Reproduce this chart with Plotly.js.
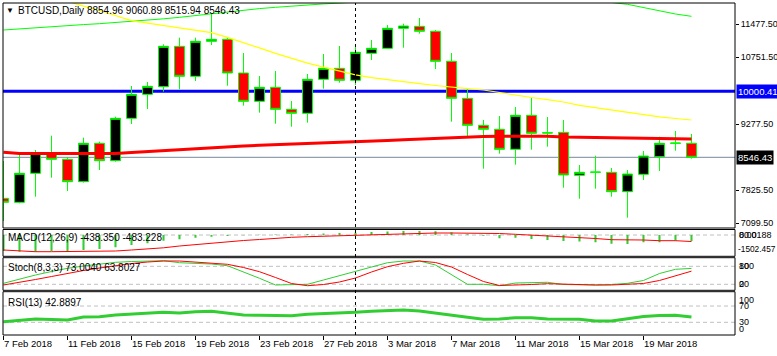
<!DOCTYPE html>
<html><head><meta charset="utf-8">
<script src="https://cdn.plot.ly/plotly-3.0.1.min.js"></script>
<style>html,body{margin:0;padding:0;background:#fff;}#chart{width:777px;height:356px;}</style>
</head><body><div id="chart"></div>
<script>
// ---------- DATA ----------
const dates = ['2018-02-07','2018-02-08','2018-02-09','2018-02-10','2018-02-11','2018-02-12','2018-02-13','2018-02-14','2018-02-15','2018-02-16','2018-02-17','2018-02-18','2018-02-19','2018-02-20','2018-02-21','2018-02-22','2018-02-23','2018-02-24','2018-02-25','2018-02-26','2018-02-27','2018-02-28','2018-03-01','2018-03-02','2018-03-03','2018-03-04','2018-03-05','2018-03-06','2018-03-07','2018-03-08','2018-03-09','2018-03-10','2018-03-11','2018-03-12','2018-03-13','2018-03-14','2018-03-15','2018-03-16','2018-03-17','2018-03-18','2018-03-19','2018-03-20','2018-03-21','2018-03-22'];
const openP  = [7644,7556,8194,8634,8502,8010,8854,8472,9404,9932,10100,10988,10328,11098,11142,10401,9778,10086,9602,9514,10262,10504,10240,10834,10944,11384,11428,11318,10658,9844,9250,9162,8722,9470,9088,9096,8150,8216,8216,7790,8172,8560,8854,8854.96];
const highP  = [8465,8619,8707,9022,8546,8978,8890,9440,10115,10203,11032,11178,11178,11714,11178,10841,10335,10445,9785,10379,10819,10995,11017,11127,11457,11486,11611,11347,10841,10049,9367,9455,9653,9851,9433,9367,8377,8582,8311,8267,8685,9000,9125,9060.89];
const lowP   = [7145,7534,7680,8098,7805,7990,8267,8450,9279,9609,9990,10042,10225,11017,10122,9682,9528,9286,9220,9308,10056,10188,10137,10687,10930,10958,11266,10489,9330,8978,8296,8626,8384,8714,8780,7878,7636,7856,7680,7218,8047,8245,8692,8515.94];
const closeP = [7556,8194,8634,8502,8010,8854,8472,9404,9932,10108,10988,10328,11098,11142,10401,9778,10086,9602,9514,10262,10504,10240,10856,10944,11384,11435,11318,10658,9844,9250,9162,8722,9470,9074,9080,8157,8216,8222,7790,8179,8575,8854,8860,8546.43];
const maGreen  = [11347,11373,11398,11422,11446,11466,11486,11510,11536,11565,11593,11626,11664,11701,11747,11789,11818,11846,11875,11901,11921,11939,11965,11990,12015,12040,12065,12090,12110,12125,12135,12140,12138,12130,12115,12090,12055,12010,11952,11912,11842,11769,11699,11648];
const maYellow = [12401,12293,12187,12082,11976,11873,11776,11666,11554,11497,11444,11393,11347,11288,11184,11076,10953,10832,10724,10617,10529,10441,10359,10300,10251,10210,10168,10126,10084,10056,10027,9968,9915,9862,9816,9763,9690,9638,9589,9543,9488,9437,9400,9367];
const maRed    = [8656,8630,8630,8630,8630,8630,8630,8630,8652,8674,8696,8714,8736,8758,8780,8795,8811,8824,8833,8839,8850,8861,8876,8898,8916,8933,8949,8960,8977,8993,9004,9011,9015,9015,9008,8993,8989,8982,8971,8971,8971,8971,8964,8949];
const macdMain   = [-1184,-1236,-1236,-1184,-1184,-1110,-1036,-910,-740,-614,-422,-318,-200,-126,-74,-22,15,30,40,70,110,140,170,220,260,290,300,280,200,60,-50,-240,-200,-290,-370,-440,-490,-540,-640,-670,-540,-540,-420,-438.350];
const macdSignal = [-1110,-1184,-1236,-1236,-1236,-1236,-1236,-1184,-1110,-1036,-947,-814,-703,-614,-518,-407,-333,-244,-170,-126,-89,-59,-15,15,52,111,126,148,148,148,148,111,52,0,-74,-111,-200,-259,-348,-348,-370,-422,-422,-483.228];
const stochK = [23.3,37.7,51,62.7,73.3,81,86.7,93.3,96,98.3,98.7,92,89.3,87.7,82,62,40,17.7,17.7,20,34.3,48.7,62,77.7,92,97.7,97.7,84.3,53.3,20,20,15.3,24.3,26,26.7,19.3,17.7,17.7,19.3,23.3,32.7,56,70,73.0040];
const stochD = [17.7,26,36,46,56.7,66,74.3,82,89.3,94.3,97.7,97.7,94.3,90,86.7,76,62,42.7,22.7,15.3,19.3,27.7,41,61,78.7,90,97.7,92.7,77.7,52.7,29.3,16,17,19.3,22,20,17.7,17.7,17.7,19.3,22.7,32.7,47.7,63.8027];
const rsi = [31.4,34.4,38,36.8,35.6,42.9,43.7,47.9,50.3,52.8,54.5,52.8,56,56.9,52.8,47.9,47.1,46.1,46.1,49.6,50.8,52,54.5,56.9,59.4,60.1,57.7,52,47.9,42.2,37.3,38,41.2,41.2,38,37.3,37.3,33.1,33.1,38.8,44.2,46.6,47.1,42.8897];
const xTickDates = ['2018-02-07','2018-02-11','2018-02-15','2018-02-19','2018-02-23','2018-02-27','2018-03-03','2018-03-07','2018-03-11','2018-03-15','2018-03-19'];
const xTickText  = ['7 Feb 2018','11 Feb 2018','15 Feb 2018','19 Feb 2018','23 Feb 2018','27 Feb 2018','3 Mar 2018','7 Mar 2018','11 Mar 2018','15 Mar 2018','19 Mar 2018'];
const priceTicks = [7099.50,7825.50,9277.50,10751.50,11477.50];
const priceTickText = ['7099.50','7825.50','9277.50','10751.50','11477.50'];
const levelPrice = 10000.41;
const bidPrice = 8546.43;
const separatorDate = '2018-03-01';
const macdScaleLabels = ['0.00','80.0188','-1502.457'];
const stochLevels = [20,80];
const rsiLevels = [30,70];

// ---------- LAYOUT HELPERS ----------
const FONT = 'Liberation Sans, Arial, sans-serif';
const PX = x => (x - 3) / 732;
const PY = y => (335 - y) / 332;
const dMain = [PY(228), PY(3)];
const dMacd = [PY(256.3), PY(229.5)];
const dSto  = [PY(290.3), PY(257.7)];
const dRsi  = [PY(335), PY(291.7)];
const last = dates.length - 1;

const traces = [
  {x:dates, y:maGreen, type:'scatter', mode:'lines', line:{color:'#00FF00', width:1}, xaxis:'x', yaxis:'y', hoverinfo:'skip'},
  {x:dates, y:maYellow, type:'scatter', mode:'lines', line:{color:'#FFFF00', width:1.2}, xaxis:'x', yaxis:'y', hoverinfo:'skip'},
  {x:dates, y:maRed, type:'scatter', mode:'lines', line:{color:'#FF0000', width:3}, xaxis:'x', yaxis:'y', hoverinfo:'skip'},
  {x:dates, open:openP, high:highP, low:lowP, close:closeP, type:'candlestick', xaxis:'x', yaxis:'y',
   whiskerwidth:0,
   increasing:{line:{color:'#00FF00', width:1}, fillcolor:'#000000'},
   decreasing:{line:{color:'#00FF00', width:1}, fillcolor:'#FF0000'}, hoverinfo:'skip'},
  {x:dates, y:macdMain, type:'bar', marker:{color:'#32CD32'}, width:0.13*86400000, xaxis:'x', yaxis:'y2', hoverinfo:'skip'},
  {x:dates, y:macdSignal, type:'scatter', mode:'lines', line:{color:'#FF0000', width:1}, xaxis:'x', yaxis:'y2', hoverinfo:'skip'},
  {x:dates, y:stochK, type:'scatter', mode:'lines', line:{color:'#32CD32', width:1}, xaxis:'x', yaxis:'y3', hoverinfo:'skip'},
  {x:dates, y:stochD, type:'scatter', mode:'lines', line:{color:'#FF0000', width:1}, xaxis:'x', yaxis:'y3', hoverinfo:'skip'},
  {x:dates, y:rsi, type:'scatter', mode:'lines', line:{color:'#32CD32', width:3}, xaxis:'x', yaxis:'y4', hoverinfo:'skip'}
];

const subAxis = (dom, rng) => ({domain:dom, range:rng, anchor:'x', showgrid:false, zeroline:false, showline:false, showticklabels:false, ticks:'', fixedrange:true});

const shapes = [];
[dMain, dMacd, dSto, dRsi].forEach(d => shapes.push({type:'rect', xref:'paper', yref:'paper', x0:0, x1:1, y0:d[0], y1:d[1], line:{color:'#000', width:1}, fillcolor:'rgba(0,0,0,0)', layer:'above'}));
shapes.push({type:'line', xref:'paper', x0:0, x1:1, yref:'y', y0:levelPrice, y1:levelPrice, line:{color:'#0000FF', width:3}, layer:'below'});
shapes.push({type:'line', xref:'paper', x0:0, x1:1, yref:'y', y0:bidPrice, y1:bidPrice, line:{color:'#778899', width:1}, layer:'below'});
shapes.push({type:'line', xref:'paper', x0:0, x1:1, yref:'y2', y0:0, y1:0, line:{color:'#C0C0C0', width:1, dash:'4px,3px'}, layer:'below'});
stochLevels.forEach(v => shapes.push({type:'line', xref:'paper', x0:0, x1:1, yref:'y3', y0:v, y1:v, line:{color:'#C0C0C0', width:1, dash:'4px,3px'}, layer:'below'}));
rsiLevels.forEach(v => shapes.push({type:'line', xref:'paper', x0:0, x1:1, yref:'y4', y0:v, y1:v, line:{color:'#C0C0C0', width:1, dash:'4px,3px'}, layer:'below'}));
shapes.push({type:'line', xref:'x', x0:separatorDate, x1:separatorDate, yref:'paper', y0:0, y1:1, line:{color:'#000', width:1, dash:'3px,3px'}, layer:'above'});

const f = (s, c) => ({family:FONT, size:s, color:c || '#000'});
const ann = (x, y, text, opts) => Object.assign({xref:'paper', yref:'paper', x:PX(x), y:PY(y), text:text, showarrow:false, xanchor:'left', yanchor:'middle', font:f(9)}, opts || {});
const annotations = [
  ann(9.5, 10.5, '▼', {xanchor:'center', font:f(8)}),
  ann(16, 11, 'BTCUSD,Daily ' + [openP[last], highP[last], lowP[last], closeP[last]].map(v => v.toFixed(2)).join(' '), {font:f(10)}),
  ann(6, 237.7, 'MACD(12,26,9) ' + macdMain[last].toFixed(3) + ' ' + macdSignal[last].toFixed(3), {font:f(10)}),
  ann(6, 267.7, 'Stoch(8,3,3) ' + stochK[last].toFixed(4) + ' ' + stochD[last].toFixed(4), {font:f(10)}),
  ann(6, 302.3, 'RSI(13) ' + rsi[last].toFixed(4), {font:f(10)}),
  // right scale labels of sub windows
  ann(737, 235, macdScaleLabels[1]),
  ann(737, 235, macdScaleLabels[0]),
  ann(736, 249.3, macdScaleLabels[2], {font:f(8.3)}),
  ann(737, 266.3, '100'), ann(737, 266.3, '80'),
  ann(737, 284.3, '20'), ann(737, 284.3, '0'),
  ann(737, 300, '100'), ann(737, 306, '70'), ann(737, 322.3, '30'), ann(737, 328.5, '0'),
  // price tags
  {xref:'paper', yref:'y', x:PX(736), y:levelPrice, text:levelPrice.toFixed(2), showarrow:false, xanchor:'left', yanchor:'middle', font:f(9.5,'#fff'), bgcolor:'#0000FF', borderpad:1},
  {xref:'paper', yref:'y', x:PX(736), y:bidPrice, text:bidPrice.toFixed(2), showarrow:false, xanchor:'left', yanchor:'middle', font:f(9.5,'#fff'), bgcolor:'#000000', borderpad:1}
];

const layout = {
  width:777, height:356, margin:{l:3, r:42, t:3, b:21},
  paper_bgcolor:'#fff', plot_bgcolor:'#fff', showlegend:false,
  boxgap:0.38, boxgroupgap:0,
  font:{family:FONT, size:10, color:'#000'},
  xaxis:{type:'date', range:['2018-02-06 23:15','2018-03-24 17:17'], anchor:'y4', domain:[0,1], showgrid:false, zeroline:false, showline:false,
    rangeslider:{visible:false}, tickmode:'array', tickvals:xTickDates, ticktext:xTickText, ticks:'outside', ticklen:4, tickwidth:1, tickcolor:'#000',
    ticklabelposition:'outside right', tickangle:0, tickfont:f(9.5), fixedrange:true},
  yaxis:{domain:dMain, range:[6991,11941], side:'right', anchor:'x', tickmode:'array', tickvals:priceTicks, ticktext:priceTickText,
    ticks:'outside', ticklen:3, tickwidth:1, tickcolor:'#000', showgrid:false, zeroline:false, showline:false, tickfont:f(9), fixedrange:true},
  yaxis2:subAxis(dMacd, [-1576, 407]),
  yaxis3:subAxis(dSto, [0, 108.7]),
  yaxis4:subAxis(dRsi, [-1.2, 105.2]),
  shapes:shapes, annotations:annotations
};

Plotly.newPlot('chart', traces, layout, {staticPlot:true, displayModeBar:false});
</script>
</body></html>
